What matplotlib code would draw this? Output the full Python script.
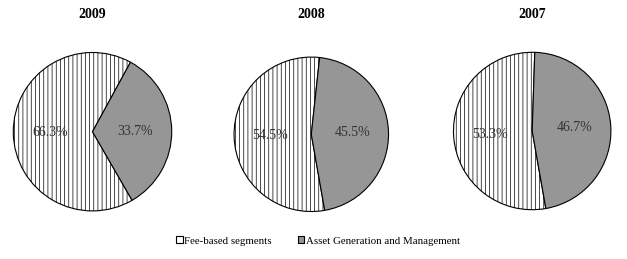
import matplotlib
matplotlib.use('Agg')
import matplotlib.pyplot as plt
from matplotlib.patches import Patch

# data
years = ['2009', '2008', '2007']
fee_based = [66.3, 54.5, 53.3]
asset_gen = [33.7, 45.5, 46.7]
series_names = ['Fee-based segments', 'Asset Generation and Management']
start_angles = [-60, -80, -80]

plt.rcParams['font.family'] = ['Liberation Serif', 'DejaVu Serif']
plt.rcParams['hatch.linewidth'] = 0.5
plt.rcParams['hatch.color'] = '#555555'

fig = plt.figure(figsize=(6.27, 2.59), dpi=100)
W, H = 627.0, 259.0

# pie boxes in pixels: (center x, center y from top, radius)
boxes = [(92.5, 131.7, 80), (311.3, 134.3, 78), (532.2, 131.0, 79.5)]

for i, year in enumerate(years):
    cx, cy, r = boxes[i]
    ax = fig.add_axes([(cx - r) / W, (H - cy - r) / H, 2 * r / W, 2 * r / H])
    wedges, texts, autotexts = ax.pie(
        [fee_based[i], asset_gen[i]],
        colors=['white', '#969696'],
        startangle=start_angles[i],
        counterclock=False,
        autopct='%1.1f%%',
        pctdistance=0.54,
        wedgeprops=dict(edgecolor='black', linewidth=0.8),
        textprops=dict(fontsize=10, color='#333333'),
    )
    wedges[0].set_hatch('||||')
    ax.set_xlim(-1.01, 1.01)
    ax.set_ylim(-1.01, 1.01)
    ax.text(0.5, (r + cy - 14) / (2 * r), year, transform=ax.transAxes,
            ha='center', va='center', fontsize=10, fontweight='bold')

handles = [Patch(facecolor='white', edgecolor='black', linewidth=0.8),
           Patch(facecolor='#969696', edgecolor='black', linewidth=0.8)]
fig.legend(handles, series_names, loc='center', bbox_to_anchor=(318 / W, 1 - 241 / H),
           ncol=2, frameon=False, fontsize=7.8, handlelength=0.6, handleheight=0.6,
           handletextpad=0.15, columnspacing=2.4)

fig.savefig('out.png', dpi=100)
